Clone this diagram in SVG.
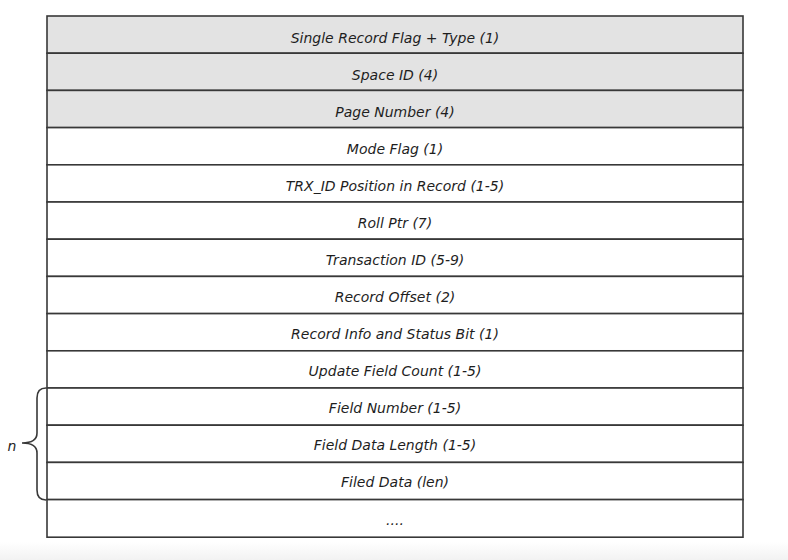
<svg xmlns="http://www.w3.org/2000/svg" width="788" height="560" viewBox="0 0 788 560">
<defs>
<style>
.row{stroke:#383838;stroke-width:1.6;}
.hd{fill:#e3e3e3;}
.pl{fill:#ffffff;}
.t{font-family:"DejaVu Sans","Liberation Sans",sans-serif;font-style:italic;font-size:14px;fill:#1e1e1e;text-anchor:middle;}
</style>
<linearGradient id="bg" x1="0" y1="0" x2="0" y2="1">
<stop offset="0" stop-color="#ffffff"/>
<stop offset="1" stop-color="#f2f2f2"/>
</linearGradient>
</defs>
<rect x="0" y="0" width="788" height="560" fill="#ffffff"/>
<rect x="0" y="542" width="788" height="18" fill="url(#bg)"/>
<g id="r1"><rect class="row hd" x="47" y="16" width="696" height="37.2"/><text class="t" x="395" y="43">Single Record Flag + Type (1)</text></g>
<g id="r2"><rect class="row hd" x="47" y="53.2" width="696" height="37.2"/><text class="t" x="395" y="80">Space ID (4)</text></g>
<g id="r3"><rect class="row hd" x="47" y="90.4" width="696" height="37.2"/><text class="t" x="395" y="117">Page Number (4)</text></g>
<g id="r4"><rect class="row pl" x="47" y="127.6" width="696" height="37.2"/><text class="t" x="395" y="154">Mode Flag (1)</text></g>
<g id="r5"><rect class="row pl" x="47" y="164.8" width="696" height="37.2"/><text class="t" x="395" y="191">TRX_ID Position in Record (1-5)</text></g>
<g id="r6"><rect class="row pl" x="47" y="202" width="696" height="37.2"/><text class="t" x="395" y="228">Roll Ptr (7)</text></g>
<g id="r7"><rect class="row pl" x="47" y="239.2" width="696" height="37.2"/><text class="t" x="395" y="265">Transaction ID (5-9)</text></g>
<g id="r8"><rect class="row pl" x="47" y="276.4" width="696" height="37.2"/><text class="t" x="395" y="302">Record Offset (2)</text></g>
<g id="r9"><rect class="row pl" x="47" y="313.6" width="696" height="37.2"/><text class="t" x="395" y="339">Record Info and Status Bit (1)</text></g>
<g id="r10"><rect class="row pl" x="47" y="350.8" width="696" height="37.2"/><text class="t" x="395" y="376">Update Field Count (1-5)</text></g>
<g id="r11"><rect class="row pl" x="47" y="388" width="696" height="37.2"/><text class="t" x="395" y="413">Field Number (1-5)</text></g>
<g id="r12"><rect class="row pl" x="47" y="425.2" width="696" height="37.2"/><text class="t" x="395" y="450">Field Data Length (1-5)</text></g>
<g id="r13"><rect class="row pl" x="47" y="462.4" width="696" height="37.2"/><text class="t" x="395" y="487">Filed Data (len)</text></g>
<g id="r14"><rect class="row pl" x="47" y="499.6" width="696" height="37.6"/><text class="t" x="395" y="525">....</text></g>
<g id="brace">
<path d="M46,388 Q37,388 37,398 L37,433 Q37,443 22,443 Q37,443 37,453 L37,490 Q37,500 46,500" fill="none" stroke="#383838" stroke-width="1.6"/>
<text class="t" x="12" y="451">n</text>
</g>
</svg>
